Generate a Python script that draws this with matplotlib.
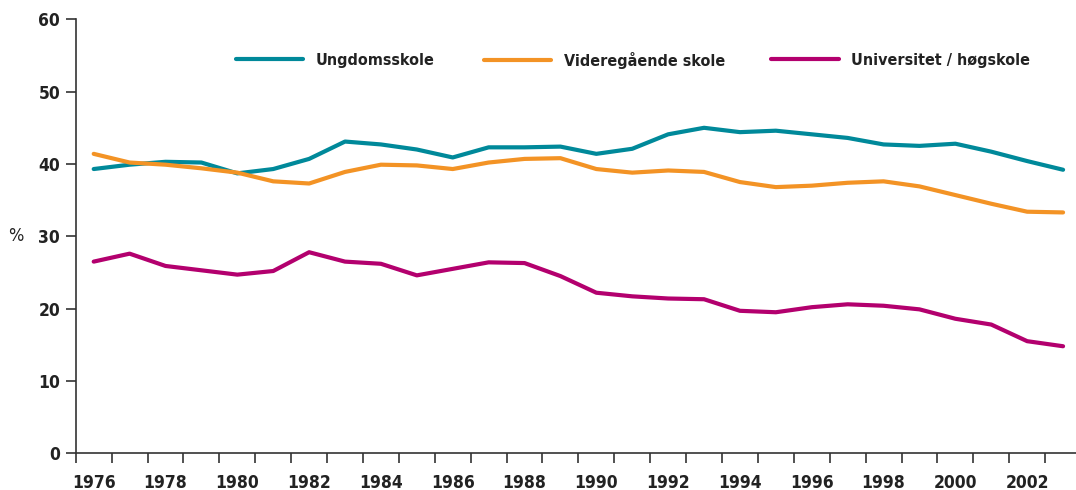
import matplotlib
matplotlib.use('Agg')
import matplotlib.pyplot as plt
import numpy as np

years = list(range(1976, 2004))

ungdomsskole = [39.3, 39.9, 40.3, 40.2, 38.7, 39.3, 40.7, 43.1, 42.7, 42.0,
                40.9, 42.3, 42.3, 42.4, 41.4, 42.1, 44.1, 45.0, 44.4, 44.6,
                44.1, 43.6, 42.7, 42.5, 42.8, 41.7, 40.4, 39.2]
videregaende = [41.4, 40.2, 39.9, 39.4, 38.8, 37.6, 37.3, 38.9, 39.9, 39.8,
                39.3, 40.2, 40.7, 40.8, 39.3, 38.8, 39.1, 38.9, 37.5, 36.8,
                37.0, 37.4, 37.6, 36.9, 35.7, 34.5, 33.4, 33.3]
universitet = [26.5, 27.6, 25.9, 25.3, 24.7, 25.2, 27.8, 26.5, 26.2, 24.6,
               25.5, 26.4, 26.3, 24.5, 22.2, 21.7, 21.4, 21.3, 19.7, 19.5,
               20.2, 20.6, 20.4, 19.9, 18.6, 17.8, 15.5, 14.8]

series_labels = ['Ungdomsskole', 'Videregående skole', 'Universitet / høgskole']
series_colors = ['#00899A', '#F39325', '#B3006E']
# left edge of each legend key, as a fraction of the figure width
legend_x = [0.219, 0.450, 0.717]

year_labels = [str(y) for y in years if y % 2 == 0]
y_ticks = [0, 10, 20, 30, 40, 50, 60]

plt.rcParams['font.family'] = ['DejaVu Sans']
plt.rcParams['font.stretch'] = 'condensed'
axis_color = '#333333'
text_color = '#222222'

fig = plt.figure(figsize=(10.76, 4.9), dpi=100)
ax = fig.add_axes([0.0704, 0.0749, 0.9296, 0.8857])

handles = []
for vals, lab, col in zip([ungdomsskole, videregaende, universitet], series_labels, series_colors):
    h, = ax.plot(years, vals, color=col, linewidth=3.0, label=lab,
                 solid_capstyle='round', solid_joinstyle='round')
    handles.append(h)

ax.set_xlim(1975.5, 2003.36)
ax.set_ylim(0, 60)

# tick marks sit between the years, labels centred on the even years
ax.set_xticks(np.arange(1975.5, 2003.0, 1.0))
ax.set_xticklabels([])
ax.tick_params(axis='x', which='major', direction='out', length=7.2, width=1.2, color=axis_color)
ax.set_xticks([y for y in years if y % 2 == 0], minor=True)
ax.set_xticklabels(year_labels, minor=True, fontsize=12.5, fontweight='bold', color=text_color)
ax.tick_params(axis='x', which='minor', length=0, pad=15)

ax.set_yticks(y_ticks)
ax.set_yticklabels([str(v) for v in y_ticks], fontsize=12.5, fontweight='bold', color=text_color)
ax.tick_params(axis='y', direction='out', length=7.2, width=1.2, color=axis_color, pad=4)

for side in ['top', 'right']:
    ax.spines[side].set_visible(False)
for side in ['left', 'bottom']:
    ax.spines[side].set_color(axis_color)
    ax.spines[side].set_linewidth(1.2)

ax.set_ylabel('%', rotation=0, fontsize=13, color=text_color, va='center')
ax.yaxis.set_label_coords(-0.06, 0.5)

# one legend per series so each key sits at its own spot along the top
for h, x0 in zip(handles, legend_x):
    leg = fig.legend(handles=[h], loc='center left', bbox_to_anchor=(x0, 0.877),
                     frameon=False, borderpad=0, borderaxespad=0,
                     handlelength=4.2, handletextpad=0.8,
                     prop={'size': 11.5, 'weight': 'bold', 'stretch': 'condensed'})
    leg.get_lines()[0].set_linewidth(3.0)
    leg.get_texts()[0].set_color(text_color)

fig.savefig('out.png', dpi=100)
